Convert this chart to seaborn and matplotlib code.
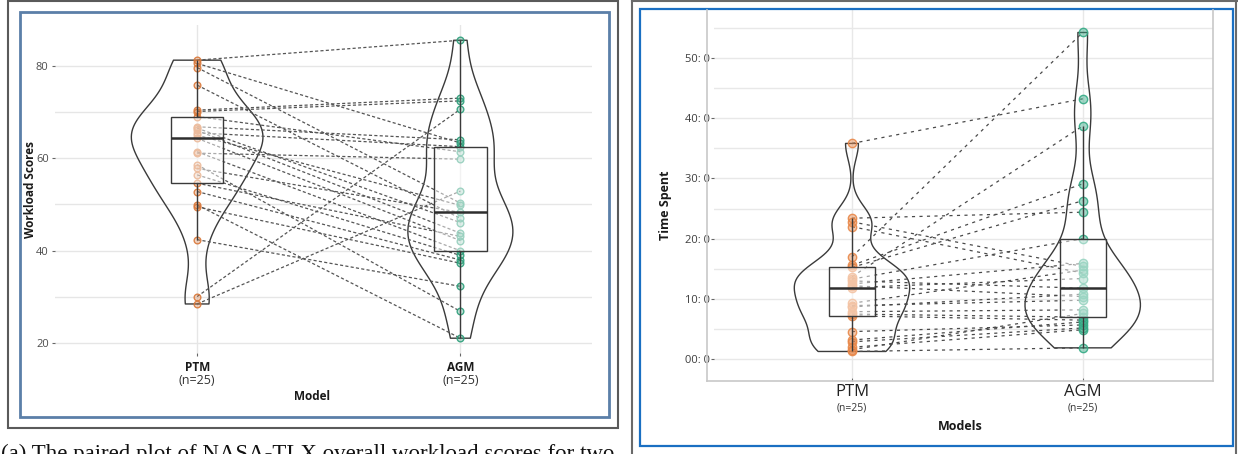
import numpy as np
import pandas as pd
import matplotlib
matplotlib.use("Agg")
import matplotlib.pyplot as plt
import seaborn as sns
from matplotlib.patches import Rectangle
from matplotlib.lines import Line2D

# ---- data (same index = same participant) ----
models = ["PTM", "AGM"]
n_labels = ["(n=25)", "(n=25)"]

workload_ptm = [81.2, 80.5, 79.6, 75.8, 70.4, 70.1, 69.0, 66.8, 66.5, 66.0, 65.5, 65.0, 64.3,
                61.4, 61.1, 58.6, 57.8, 56.4, 54.6, 52.8, 49.9, 49.5, 42.4, 30.1, 28.5]
workload_agm = [85.5, 63.3, 50.3, 47.0, 73.0, 72.4, 61.4, 64.0, 46.1, 43.8, 62.5, 49.8, 42.2,
                40.0, 59.8, 26.9, 48.3, 39.0, 43.1, 38.0, 21.1, 37.3, 32.3, 70.6, 52.9]

time_ptm = [35.8, 23.4, 22.8, 22.0, 17.0, 15.6, 15.25, 13.7, 13.3, 13.0, 12.5, 12.2, 11.9,
            9.3, 8.9, 8.7, 7.9, 7.5, 7.2, 4.6, 3.2, 2.9, 2.0, 1.6, 1.3]
time_agm = [43.2, 24.4, 15.4, 14.3, 54.2, 29.1, 26.3, 38.7, 20.0, 11.8, 15.9, 10.4, 13.4,
            14.8, 9.8, 10.8, 8.2, 7.0, 6.5, 5.7, 6.2, 5.2, 4.9, 7.6, 1.9]

workload_ticks = [20, 40, 60, 80]
time_ticks = [0, 10, 20, 30, 40, 50]
time_tick_labels = ["00: 0", "10: 0", "20: 0", "30: 0", "40: 0", "50: 0"]

caption = "(a) The paired plot of NASA-TLX overall workload scores for two"

W, H = 1238, 454
plt.rcParams["font.family"] = ["Open Sans", "DejaVu Sans"]
fig = plt.figure(figsize=(W / 100, H / 100), dpi=100)
fig.patch.set_facecolor("white")


def px_box(x0, y0, x1, y1):
    # pixel box (top-left origin) -> figure fraction rect
    return [x0 / W, 1 - y1 / H, (x1 - x0) / W, (y1 - y0) / H]


def long_df(a, b):
    return pd.DataFrame({
        "pid": list(range(len(a))) * 2,
        "model": ["PTM"] * len(a) + ["AGM"] * len(b),
        "value": list(a) + list(b),
    })


def paired_panel(ax, a, b, norm, bw, palette, psize, face_alpha, dash, line_col):
    df = long_df(a, b)
    sns.violinplot(data=df, x="model", y="value", order=models, inner=None, cut=0,
                   fill=False, color="#3a3a3a", linewidth=1.0, width=0.5,
                   density_norm=norm, bw_adjust=bw, ax=ax)
    sns.lineplot(data=df, x="model", y="value", units="pid", estimator=None,
                 color=line_col, lw=0.9, linestyle=dash, legend=False, ax=ax, zorder=1.5)
    n0 = len(ax.collections)
    sns.stripplot(data=df, x="model", y="value", order=models, hue="model",
                  hue_order=models, palette=palette, jitter=False, size=psize,
                  linewidth=1.0, legend=False, ax=ax, zorder=2)
    for coll in ax.collections[n0:]:
        fc = coll.get_facecolor()
        if len(fc) == 0:
            continue
        rgb = tuple(fc[0][:3])
        coll.set_facecolor((*rgb, face_alpha))
        coll.set_edgecolor((*rgb, 0.9))
    sns.boxplot(data=df, x="model", y="value", order=models, width=0.2,
                showfliers=False, showcaps=False, linecolor="#3a3a3a",
                boxprops=dict(facecolor=(1, 1, 1, 0.5), edgecolor="#3a3a3a",
                              linewidth=1.0, zorder=3),
                whiskerprops=dict(color="#3a3a3a", linewidth=1.0, zorder=3),
                medianprops=dict(color="#2e2e2e", linewidth=1.8, zorder=4),
                ax=ax)
    ax.set_xlabel("")
    ax.set_ylabel("")
    for s in ax.spines.values():
        s.set_visible(False)
    ax.set_axisbelow(True)


# ---------------- left panel: workload ----------------
ax1 = fig.add_axes(px_box(55, 25, 592, 353))
paired_panel(ax1, workload_ptm, workload_agm, "area", 0.75,
             {"PTM": "#D9783A", "AGM": "#2E9F7B"}, 4.8, 0.3, (0, (2.5, 1.8)), "#555555")
ax1.set_xlim(-0.54, 1.50)
ax1.set_ylim(17.9, 88.8)
ax1.set_yticks(workload_ticks)
ax1.set_yticks([30, 50, 70], minor=True)
ax1.grid(True, which="both", axis="y", color="#e6e6e6", lw=1.0)
ax1.grid(True, which="major", axis="x", color="#e6e6e6", lw=1.0)
ax1.tick_params(axis="y", which="major", length=2.5, width=0.8, color="#666666",
                labelsize=8, labelcolor="#4d4d4d", pad=2)
ax1.tick_params(axis="y", which="minor", length=0)
ax1.tick_params(axis="x", length=2.5, width=0.8, color="#666666", pad=3,
                labelsize=8.5, labelcolor="#1a1a1a")
ax1.set_xticks(range(len(models)))
ax1.set_xticklabels(models, fontweight="bold")
for i, lab in enumerate(n_labels):
    ax1.text(i, -0.085, lab, transform=ax1.get_xaxis_transform(), ha="center",
             va="center", fontsize=9, color="#333333")
fig.text(312 / W, 1 - 397 / H, "Model", ha="center", va="center",
         fontsize=8.5, fontweight="bold", color="#1a1a1a")
fig.text(30 / W, 1 - 189 / H, "Workload Scores", ha="center", va="center",
         rotation=90, fontsize=8.5, fontweight="bold", color="#1a1a1a")

# ---------------- right panel: time spent ----------------
ax2 = fig.add_axes(px_box(714, 10, 1213.3, 378))
paired_panel(ax2, time_ptm, time_agm, "width", 0.62,
             {"PTM": "#E8884A", "AGM": "#35AA85"}, 6.0, 0.45, (0, (2.5, 3.5)), "#4a4a4a")
ax2.set_xlim(-0.598, 1.566)
ax2.set_ylim(-3.1, 57.93)
ax2.set_yticks(time_ticks)
ax2.set_yticklabels(time_tick_labels)
ax2.set_yticks([5, 15, 25, 35, 45, 55], minor=True)
ax2.grid(True, which="both", axis="y", color="#e8e8e8", lw=1.0)
ax2.grid(True, which="major", axis="x", color="#e8e8e8", lw=1.0)
ax2.tick_params(axis="y", which="major", length=2.2, width=0.8, color="#666666",
                labelsize=8, labelcolor="#3d3d3d", pad=0.8)
ax2.tick_params(axis="y", which="minor", length=0)
ax2.tick_params(axis="x", length=2.5, width=0.8, color="#666666", pad=1.5,
                labelsize=12, labelcolor="#222222")
ax2.set_xticks(range(len(models)))
ax2.set_xticklabels(models)
for i, lab in enumerate(n_labels):
    ax2.text(i, -0.082, lab, transform=ax2.get_xaxis_transform(), ha="center",
             va="center", fontsize=7.5, color="#333333")
fig.text(960 / W, 1 - 427 / H, "Models", ha="center", va="center",
         fontsize=9, fontweight="bold", color="#1a1a1a")
fig.text(665 / W, 1 - 205 / H, "Time Spent", ha="center", va="center",
         rotation=90, fontsize=9, fontweight="bold", color="#1a1a1a")

# plot frame of right panel (light gray L + right edge)
for (xa, ya, xb, yb) in [(707.3, 10, 707.3, 380.5), (707.3, 380.5, 1213.3, 380.5),
                         (1213.3, 10, 1213.3, 380.5)]:
    fig.add_artist(Line2D([xa / W, xb / W], [1 - ya / H, 1 - yb / H],
                          transform=fig.transFigure, color="#c8c8c8", lw=1.2))

# ---------------- panel borders ----------------
fig.add_artist(Rectangle((8 / W, 1 - 427.7 / H), 609.5 / W, 426.7 / H,
                         transform=fig.transFigure, fill=False, ec="#5a5a5a", lw=1.5))
fig.add_artist(Rectangle((20 / W, 1 - 416.7 / H), 589.3 / W, 404.7 / H,
                         transform=fig.transFigure, fill=False, ec="#5b7fa8", lw=2.0))
for (xa, ya, xb, yb) in [(631.7, 0, 631.7, 454), (631.7, 0.7, 1238, 0.7),
                         (1236, 0, 1236, 454)]:
    fig.add_artist(Line2D([xa / W, xb / W], [1 - ya / H, 1 - yb / H],
                          transform=fig.transFigure, color="#6a6a6a", lw=1.5))
fig.add_artist(Rectangle((640 / W, 1 - 445.7 / H), 592.7 / W, 436.4 / H,
                         transform=fig.transFigure, fill=False, ec="#1a6fc2", lw=1.6))

# figure caption, cut by the lower edge as in the source
fig.text(1 / W, 1 - 444 / H, caption, ha="left", va="top", fontsize=16.5,
         family=["Liberation Serif", "DejaVu Serif"], color="#111111")

fig.savefig("out.png", dpi=100)
